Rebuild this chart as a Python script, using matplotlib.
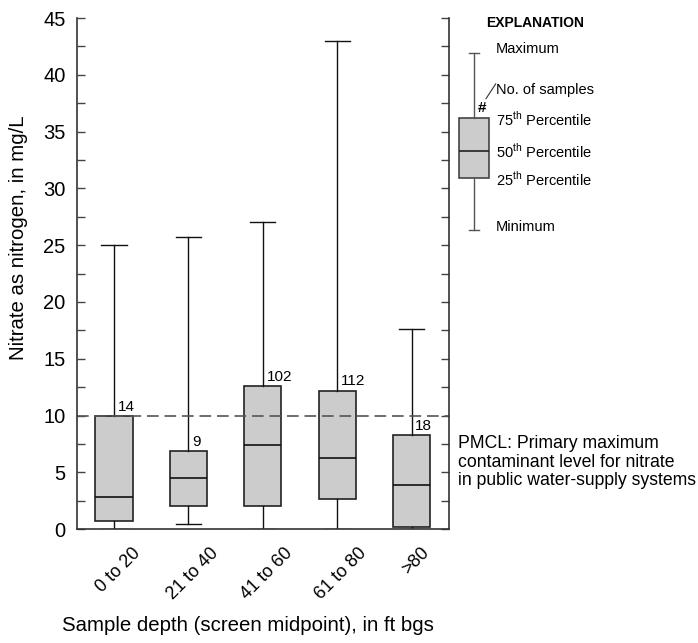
import matplotlib
matplotlib.use('Agg')
import matplotlib.pyplot as plt
from matplotlib.transforms import ScaledTranslation

plt.rcParams['font.family'] = ['Liberation Sans', 'DejaVu Sans']
plt.rcParams['mathtext.fontset'] = 'custom'
plt.rcParams['mathtext.rm'] = 'Liberation Sans'

# data
categories = ['0 to 20', '21 to 40', '41 to 60', '61 to 80', '>80']
minimum = [0.0, 0.44, 0.0, 0.0, 0.0]
q1 = [0.73, 2.08, 2.02, 2.7, 0.17]
median = [2.8, 4.55, 7.39, 6.3, 3.93]
q3 = [9.95, 6.84, 12.6, 12.2, 8.25]
maximum = [25.0, 25.7, 27.0, 43.0, 17.6]
counts = [14, 9, 102, 112, 18]
pmcl = 10

# explanation box values
ex_stats = dict(whislo=26.3, q1=30.9, med=33.3, q3=36.2, whishi=41.95)

fig = plt.figure(figsize=(6.98, 6.43), dpi=100)
ax = fig.add_axes([0.110, 0.177, 0.533, 0.795])

box_kw = dict(patch_artist=True, widths=0.5, showfliers=False,
              boxprops=dict(facecolor='#cccccc', edgecolor='#222222', linewidth=1.2),
              medianprops=dict(color='#111111', linewidth=1.2),
              whiskerprops=dict(color='#111111', linewidth=1.0),
              capprops=dict(color='#111111', linewidth=1.0))

stats = []
for i in range(len(categories)):
    stats.append(dict(whislo=minimum[i], q1=q1[i], med=median[i],
                      q3=q3[i], whishi=maximum[i], label=categories[i]))
ax.bxp(stats, positions=range(1, 6), capwidths=0.34, **box_kw)

for i, n in enumerate(counts):
    ax.text(i + 1.05, q3[i] + 0.2, str(n), fontsize=11, ha='left', va='bottom')

ax.axhline(pmcl, color='#555555', lw=1.2, dashes=(7, 3.5))

# explanation (drawn outside the axes)
ex_kw = dict(boxprops=dict(facecolor='#cccccc', edgecolor='#444444', linewidth=1.2),
             medianprops=dict(color='#222222', linewidth=1.2),
             whiskerprops=dict(color='#555555', linewidth=1.0),
             capprops=dict(color='#555555', linewidth=1.0))
arts = ax.bxp([ex_stats], positions=[5.84], widths=0.40, capwidths=0.14,
              patch_artist=True, showfliers=False, manage_ticks=False, **ex_kw)
for group in arts.values():
    for a in group:
        a.set_clip_on(False)

tx = 6.13
fs = 10.5
ax.text(6.0, 44.6, 'EXPLANATION', fontsize=10, fontweight='bold', va='center', clip_on=False)
ax.text(tx, 42.3, 'Maximum', fontsize=fs, va='center')
ax.text(tx, 38.7, 'No. of samples', fontsize=fs, va='center')
ax.text(tx, 36.1, '75$^{\\mathrm{th}}$ Percentile', fontsize=fs, va='center')
ax.text(tx, 33.3, '50$^{\\mathrm{th}}$ Percentile', fontsize=fs, va='center')
ax.text(tx, 30.8, '25$^{\\mathrm{th}}$ Percentile', fontsize=fs, va='center')
ax.text(tx, 26.6, 'Minimum', fontsize=fs, va='center')
ax.text(5.94, 36.5, '#', fontsize=11, fontweight='bold', ha='center', va='bottom')
ax.plot([6.0, 6.13], [37.9, 39.2], color='#333333', lw=0.8, clip_on=False)

ax.text(5.62, 5.9, 'PMCL: Primary maximum\ncontaminant level for nitrate\nin public water-supply systems',
        fontsize=12.7, va='center', ha='left', linespacing=1.1)

ax.set_xlim(0.5, 5.5)
ax.set_ylim(0, 45)
ax.set_yticks(range(0, 46, 5))
ax.set_yticks([x + 2.5 for x in range(0, 45, 5)], minor=True)
ax.tick_params(axis='y', which='both', direction='in', length=6, width=1,
               right=True, labelsize=14.5, color='#444444', pad=8)
ax.tick_params(axis='x', length=0, labelsize=13, pad=11)
ax.set_xticks(range(1, 6))
ax.set_xticklabels(categories, rotation=45, ha='center')
shift = ScaledTranslation(3 / 72, 0, fig.dpi_scale_trans)
for lab in ax.get_xticklabels():
    lab.set_transform(lab.get_transform() + shift)
ax.spines['top'].set_visible(False)
for s in ['left', 'right', 'bottom']:
    ax.spines[s].set_color('#333333')
    ax.spines[s].set_linewidth(1.2)

ax.set_ylabel('Nitrate as nitrogen, in mg/L', fontsize=14.7)
ax.yaxis.set_label_coords(-0.13, 0.57)
ax.set_xlabel('Sample depth (screen midpoint), in ft bgs', fontsize=14.7)
ax.xaxis.set_label_coords(0.46, -0.17)

fig.savefig('out.png', dpi=100)
